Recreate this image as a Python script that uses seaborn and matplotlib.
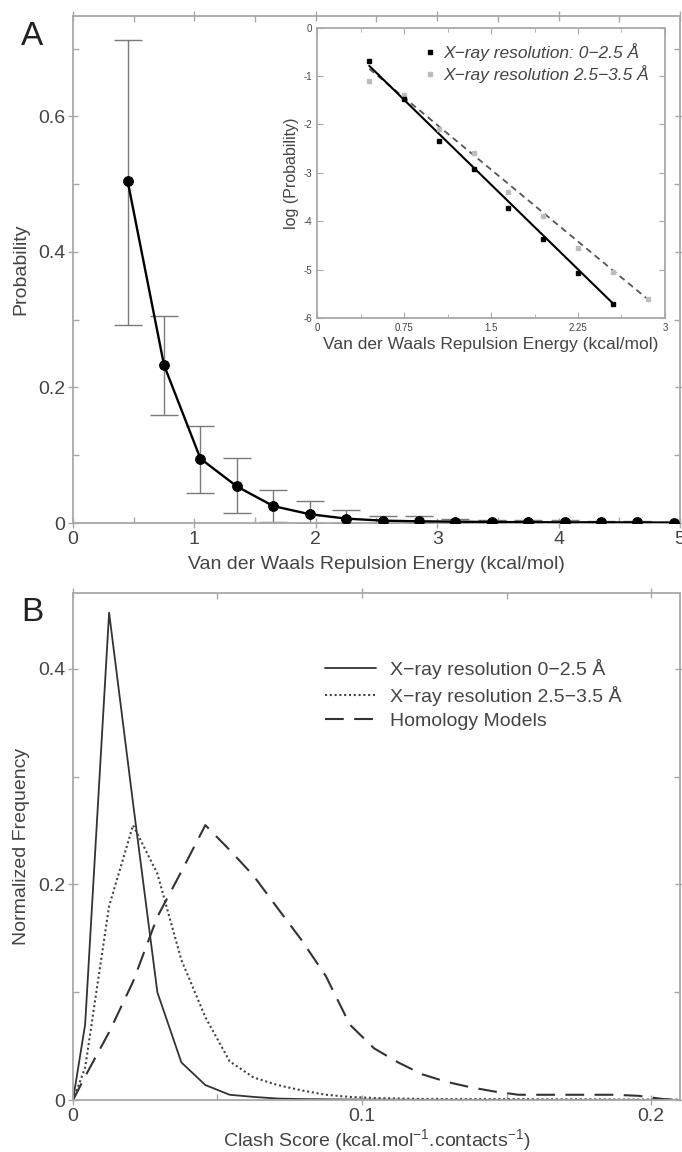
import numpy as np
import matplotlib
matplotlib.use('Agg')
import matplotlib.pyplot as plt
from matplotlib.ticker import MultipleLocator, FuncFormatter
from matplotlib.lines import Line2D
import seaborn as sns

# panel A: probability vs repulsion energy
energy = [0.45, 0.75, 1.05, 1.35, 1.65, 1.95, 2.25, 2.55,
          2.85, 3.15, 3.45, 3.75, 4.05, 4.35, 4.65, 4.95]
prob = [0.505, 0.233, 0.095, 0.054, 0.025, 0.013, 0.0065, 0.0035,
        0.0025, 0.002, 0.0015, 0.0012, 0.001, 0.001, 0.0008, 0.0006]
err_hi = [0.713, 0.305, 0.143, 0.096, 0.049, 0.032, 0.019, 0.011,
          0.010, 0.006, 0.005, 0.004, 0.004, 0.003, 0.003, 0.002]
err_lo = [0.292, 0.159, 0.045, 0.015, 0.002, 0.0, 0.0, 0.0,
          0.0, 0.0, 0.0, 0.0, 0.0, 0.0, 0.0, 0.0]

# inset: log(probability)
inset_x1 = [0.45, 0.75, 1.05, 1.35, 1.65, 1.95, 2.25, 2.55]
inset_y1 = [-0.68, -1.48, -2.34, -2.93, -3.72, -4.37, -5.07, -5.72]
inset_x2 = [0.45, 0.75, 1.05, 1.35, 1.65, 1.95, 2.25, 2.55, 2.85]
inset_y2 = [-1.1, -1.4, -2.1, -2.6, -3.4, -3.9, -4.55, -5.05, -5.6]
fit1_x = [0.45, 2.56]
fit1_y = [-0.79, -5.72]
fit2_x = [0.45, 2.84]
fit2_y = [-0.85, -5.59]

# panel B: clash score distributions
clash = [0, 0.0042, 0.0125, 0.0208, 0.0292, 0.0375, 0.0458, 0.0542, 0.0625,
         0.0708, 0.0792, 0.0875, 0.0958, 0.1042, 0.1125, 0.1208, 0.1292,
         0.1375, 0.1458, 0.1542, 0.1625, 0.1708, 0.1792, 0.1875, 0.1958,
         0.2042, 0.2125]
xray_hi = [0, 0.07, 0.452, 0.275, 0.10, 0.035, 0.014, 0.005, 0.003,
           0.0015, 0.001, 0.0008, 0.0006, 0.0005, 0.0004, 0.0003, 0.0003,
           0.0002, 0.0002, 0.0002, 0.0001, 0.0001, 0.0001, 0.0001, 0.0001,
           0, 0]
xray_lo = [0, 0.03, 0.18, 0.255, 0.21, 0.13, 0.077, 0.036, 0.021,
           0.014, 0.009, 0.005, 0.003, 0.002, 0.0015, 0.0012, 0.001,
           0.001, 0.001, 0.001, 0.0008, 0.0008, 0.0008, 0.0006, 0.0006,
           0.0005, 0.0005]
homology = [0, 0.022, 0.063, 0.11, 0.17, 0.212, 0.255, 0.232, 0.208,
            0.178, 0.148, 0.115, 0.07, 0.048, 0.035, 0.024, 0.017,
            0.012, 0.008, 0.005, 0.005, 0.005, 0.005, 0.005, 0.004,
            0.001, 0]

sns.set_style('ticks')
plt.rcParams['font.family'] = ['Liberation Sans', 'DejaVu Sans']
plt.rcParams['axes.unicode_minus'] = False
plt.rcParams['mathtext.default'] = 'regular'

spine_c = '#a8a8a8'
text_c = '#444444'
fs = 14

fig = plt.figure(figsize=(6.82, 11.52), dpi=100)
axA = fig.add_axes([0.107, 0.546, 0.890, 0.440])
axB = fig.add_axes([0.107, 0.045, 0.890, 0.440])
axI = fig.add_axes([0.465, 0.724, 0.510, 0.252])


def style_axes(ax, size):
    for s in ax.spines.values():
        s.set_color(spine_c)
        s.set_linewidth(1.3)
    ax.tick_params(which='both', colors=spine_c, labelcolor=text_c,
                   top=True, right=True, labelsize=size)
    ax.tick_params(which='major', direction='inout', length=7, width=1, pad=2)
    ax.tick_params(which='minor', direction='in', length=4, width=1)


fmt = FuncFormatter(lambda v, p: '%g' % round(v, 3))

# ---- panel A
axA.errorbar(energy, prob,
             yerr=[np.array(prob) - np.array(err_lo), np.array(err_hi) - np.array(prob)],
             fmt='none', ecolor='#7a7a7a', elinewidth=1, capsize=10, capthick=1, zorder=1)
sns.lineplot(x=energy, y=prob, ax=axA, color='black', lw=1.7, marker='o',
             markersize=7, markeredgecolor='black', zorder=3)
axA.set_xlim(0, 5)
axA.set_ylim(0, 0.748)
axA.xaxis.set_major_locator(MultipleLocator(1))
axA.xaxis.set_minor_locator(MultipleLocator(0.5))
axA.yaxis.set_major_locator(MultipleLocator(0.2))
axA.yaxis.set_minor_locator(MultipleLocator(0.1))
axA.xaxis.set_major_formatter(fmt)
axA.yaxis.set_major_formatter(fmt)
style_axes(axA, fs)
axA.set_xlabel('Van der Waals Repulsion Energy (kcal/mol)', fontsize=fs, color=text_c, labelpad=6)
axA.set_ylabel('Probability', fontsize=fs, color=text_c, labelpad=6)
fig.text(0.047, 0.968, 'A', fontsize=24, color='#222222', ha='center', va='center')

# ---- inset
sns.lineplot(x=fit2_x, y=fit2_y, ax=axI, color='#555555', lw=1.3, linestyle=(0, (3.5, 2.5)))
sns.lineplot(x=fit1_x, y=fit1_y, ax=axI, color='black', lw=1.5)
axI.plot(inset_x2, inset_y2, 's', color='#bdbdbd', ms=3.2, ls='none')
axI.plot(inset_x1, inset_y1, 's', color='black', ms=3.2, ls='none')
axI.set_xlim(0, 3)
axI.set_ylim(-6, 0)
axI.set_xticks([0, 0.75, 1.5, 2.25, 3])
axI.xaxis.set_minor_locator(MultipleLocator(0.375))
axI.yaxis.set_major_locator(MultipleLocator(1))
axI.xaxis.set_major_formatter(fmt)
axI.yaxis.set_major_formatter(fmt)
for s in axI.spines.values():
    s.set_color(spine_c)
    s.set_linewidth(1.3)
axI.tick_params(which='both', direction='in', colors=spine_c, labelcolor=text_c,
                top=True, right=True, labelsize=7)
axI.tick_params(which='major', length=4)
axI.tick_params(which='minor', length=3)
axI.set_xlabel('Van der Waals Repulsion Energy (kcal/mol)', fontsize=12.5, color=text_c, labelpad=3)
axI.set_ylabel('log (Probability)', fontsize=11.5, color=text_c, labelpad=3)
handles = [Line2D([], [], marker='s', color='black', ls='none', ms=3.2),
           Line2D([], [], marker='s', color='#bdbdbd', ls='none', ms=3.2)]
leg_i = axI.legend(handles, ['X\u2212ray resolution: 0\u22122.5 \u00c5',
                             'X\u2212ray resolution 2.5\u22123.5 \u00c5'],
                   loc='upper right', frameon=False, handletextpad=0.3, handlelength=1.0,
                   prop={'style': 'italic', 'size': 12.5}, borderaxespad=0.5, labelspacing=0.2)
for t in leg_i.get_texts():
    t.set_color(text_c)

# ---- panel B
sns.lineplot(x=clash, y=xray_hi, ax=axB, color='#333333', lw=1.3,
             label='X\u2212ray resolution 0\u22122.5 \u00c5')
sns.lineplot(x=clash, y=xray_lo, ax=axB, color='#444444', lw=1.5, linestyle=(0, (1, 1.3)),
             label='X\u2212ray resolution 2.5\u22123.5 \u00c5')
sns.lineplot(x=clash, y=homology, ax=axB, color='#333333', lw=1.5, linestyle=(0, (9, 5)),
             label='Homology Models')
axB.set_xlim(0, 0.21)
axB.set_ylim(0, 0.47)
axB.xaxis.set_major_locator(MultipleLocator(0.1))
axB.xaxis.set_minor_locator(MultipleLocator(0.05))
axB.yaxis.set_major_locator(MultipleLocator(0.2))
axB.yaxis.set_minor_locator(MultipleLocator(0.1))
axB.xaxis.set_major_formatter(fmt)
axB.yaxis.set_major_formatter(fmt)
style_axes(axB, fs)
axB.set_xlabel('Clash Score (kcal.mol$^{-1}$.contacts$^{-1}$)', fontsize=fs, color=text_c, labelpad=2)
axB.set_ylabel('Normalized Frequency', fontsize=fs, color=text_c, labelpad=6)
leg = axB.legend(loc='upper left', bbox_to_anchor=(0.387, 0.905), frameon=False, fontsize=fs,
                 handlelength=2.6, handletextpad=0.7, labelspacing=0.35)
for t in leg.get_texts():
    t.set_color(text_c)
fig.text(0.047, 0.468, 'B', fontsize=24, color='#222222', ha='center', va='center')

fig.savefig('out.png', dpi=100)
